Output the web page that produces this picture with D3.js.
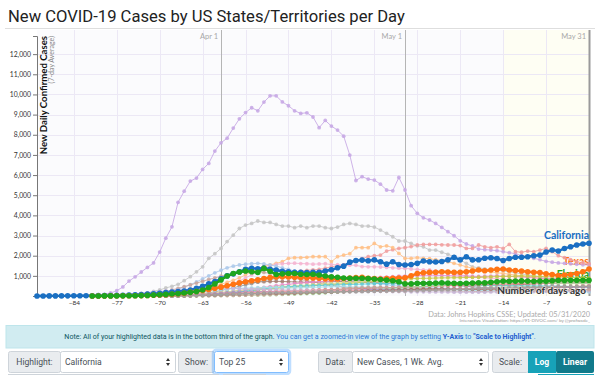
<!DOCTYPE html>
<html><head><meta charset="utf-8">
<script src="https://cdn.jsdelivr.net/npm/d3@7"></script>
<style>
html,body{margin:0;padding:0;background:#fff;}
svg{display:block;font-family:Roboto,"Helvetica Neue",Arial,sans-serif;}
</style></head><body>
<svg id="chart" width="600" height="375"></svg>
<script>
// ---------- DATA ----------
const titleText = "New COVID-19 Cases by US States/Territories per Day";
const yTicks = [1000,2000,3000,4000,5000,6000,7000,8000,9000,10000,11000,12000];
const xTicks = [-84,-77,-70,-63,-56,-49,-42,-35,-28,-21,-14,-7,0];
const monthLabels = ["Apr 1","May 1","May 31"];
const monthDays = [-60,-30,0];

// series: first day (days ago) and daily 7-day-average values
const states = ["New York","New Jersey","Illinois","Massachusetts","Pennsylvania","Michigan","Louisiana","Georgia","Maryland","Connecticut","Virginia","Ohio","Indiana","Colorado","North Carolina","Minnesota","Tennessee","Washington","Arizona","Iowa","Wisconsin","Alabama","California","Texas","Florida"];
const startDays = [-82,-78,-75,-72,-72,-75,-78,-75,-72,-72,-70,-72,-70,-76,-72,-70,-72,-88,-70,-68,-70,-70,-90,-81,-81];

const NY = [10,20,40,80,150,260,450,740,950,1190,
 1420,1640,2180,2870,3430,4650,5200,5700,5850,6280,
 6580,7190,7600,7830,8330,8790,9100,9340,9190,9620,
 9930,9930,9630,9440,9190,9060,9090,8880,8350,8710,
 8430,8230,7930,6990,5730,5920,5800,5750,5550,5260,
 5220,5880,5260,4480,4100,3880,3770,3600,3400,3190,
 2990,2740,2580,2480,2330,2300,2280,2250,2200,2150,
 2100,2000,1950,1870,1800,1720,1680,1640,1620,1600,
 1570,1550,1540];
const NJ = [5,10,20,40,70,110,160,230,300,400,
 480,580,760,960,1200,1450,1870,2100,2360,2700,
 3020,3350,3520,3600,3720,3650,3650,3550,3470,3470,
 3390,3470,3390,3470,3470,3390,3350,3420,3550,3600,
 3550,3470,3470,3420,3270,3110,2940,2730,2730,2610,
 2490,2440,2280,2280,2170,2070,1950,1790,1620,1450,
 1400,1350,1300,1280,1250,1200,1150,1100,1050,1000,
 950,900,860,830,800,780,760,740,720];
const IL = [5,8,12,18,25,35,50,70,95,120,
 150,190,230,280,330,400,470,550,620,700,
 760,820,880,950,1000,1050,1120,1180,1230,1270,
 1300,1320,1380,1450,1500,1540,1620,1750,1850,1950,
 2000,2030,2230,2300,2360,2400,2450,2530,2560,2560,
 2560,2540,2530,2530,2500,2360,2360,2530,2440,2400,
 2440,2360,2560,2200,2170,2230,2200,2280,2360,2200,
 2000,1900,1800,1700,1650,1600];
const MA = [10,20,35,55,80,110,150,200,260,330,
 410,500,580,680,780,900,1050,1200,1350,1480,
 1540,1620,1700,1870,1900,1900,1920,1950,1950,1950,
 1700,1950,2030,2100,2400,2400,2400,2610,2440,2490,
 2400,2110,1870,1870,1900,1870,1850,1800,1760,1700,
 1620,1540,1450,1380,1300,1250,1200,1150,1120,1080,
 1040,1000,960,920,880,850,820,790,760,740,
 720,700,680];
const PA = [5,10,18,30,45,65,90,120,160,210,
 270,340,420,520,620,750,900,1050,1200,1350,
 1500,1570,1600,1620,1630,1610,1600,1580,1590,1600,
 1560,1550,1540,1530,1520,1460,1450,1450,1440,1420,
 1400,1380,1370,1340,1320,1300,1290,1250,1200,1150,
 1100,1050,1000,960,930,900,880,860,840,820,
 800,780,760,740,720,700,680,660,650,640,
 630,620,610];
const MI = [5,10,20,40,70,110,170,240,330,440,
 560,700,850,1000,1150,1280,1400,1480,1540,1580,
 1600,1620,1590,1540,1480,1400,1320,1240,1170,1100,
 1040,990,950,900,860,830,800,770,720,680,
 640,600,560,520,490,470,450,430,420,410,
 400,390,390,380,370,380,390,400,410,420,
 430,440,450,460,470,480,490,500,500,510,
 500,490,470,450,420,400];
const LA = [3,6,12,20,35,55,85,120,170,230,
 300,380,460,550,640,730,820,900,980,1050,
 1100,1150,1180,1200,1190,1170,1120,1060,1000,940,
 880,820,760,700,640,580,530,480,440,410,
 390,370,350,340,330,320,310,300,300,290,
 290,280,280,270,260,250,250,240,240,230,
 230,230,240,250,260,270,280,290,300,300,
 310,320,330,320,310,300,300,310,320];
const GA = [5,10,18,30,45,65,90,120,150,190,
 230,280,330,380,430,480,520,560,600,630,
 660,690,710,720,730,720,710,700,690,680,
 680,690,700,710,720,720,710,700,690,680,
 670,660,650,640,640,630,630,620,620,610,
 610,600,600,590,580,570,560,550,550,540,
 540,540,550,560,570,580,600,610,620,630,
 640,650,650,660,660,670];
const MD = [3,5,8,12,18,26,36,50,70,90,
 115,140,170,200,235,270,310,350,390,430,
 470,510,550,580,610,640,660,690,710,730,
 750,770,790,810,830,850,880,900,920,940,
 960,980,990,1000,1010,1020,1030,1030,1020,1010,
 1000,990,990,980,970,980,990,1000,990,980,
 960,940,920,900,880,870,860,850,840,830,
 820,810,800];
const CT = [2,4,7,12,20,30,45,65,90,120,
 160,210,270,340,410,480,550,620,690,760,
 820,880,930,970,1000,1010,1000,980,950,920,
 890,860,830,800,780,760,740,720,700,680,
 660,640,620,600,590,580,570,560,550,540,
 520,500,480,460,440,420,400,380,360,350,
 340,330,320,310,300,290,280,270,260,250,
 250,240,240];
const VA = [3,5,8,12,18,26,36,50,65,85,
 110,140,170,200,230,260,290,320,350,380,
 410,430,450,470,490,510,530,550,570,590,
 610,630,650,680,710,740,770,800,820,840,
 850,860,870,880,880,890,900,900,910,910,
 920,920,930,940,950,960,970,980,980,990,
 990,980,970,960,950,940,930,920,910,900,
 890];
const OH = [3,5,8,13,20,30,45,60,80,100,
 125,150,180,210,240,270,300,330,360,390,
 420,440,460,480,500,520,540,560,580,600,
 620,640,660,680,700,720,710,700,690,680,
 670,660,650,640,630,620,610,600,590,580,
 570,560,550,540,530,520,510,500,500,490,
 490,480,480,470,470,460,460,450,450,450,
 440,440,440];
const IN = [2,4,7,11,17,25,35,48,65,85,
 110,140,170,200,240,280,320,360,390,420,
 440,460,480,490,500,510,520,530,540,550,
 560,570,580,590,600,610,620,620,610,600,
 600,590,590,580,580,570,570,560,560,550,
 550,540,540,530,530,520,520,510,510,500,
 500,490,490,480,480,470,470,460,460,450,
 450];
const CO = [5,9,14,20,28,38,50,65,85,110,
 140,170,200,230,260,290,320,340,360,380,
 390,400,410,420,420,420,410,400,400,410,
 420,430,440,450,460,460,460,450,450,440,
 430,420,410,400,390,380,370,360,350,340,
 340,330,320,310,300,300,290,280,280,270,
 270,260,260,250,250,240,240,230,230,230,
 220,220,220,210,210,210,200];
const NC = [2,3,5,8,12,17,24,32,42,55,
 70,85,100,115,130,145,160,175,190,205,
 220,230,240,250,260,270,280,290,300,310,
 320,330,340,350,360,370,380,390,400,410,
 420,430,440,450,460,470,480,490,500,510,
 520,530,540,550,560,570,580,590,600,610,
 620,630,640,650,660,680,700,720,740,760,
 780,790,800];
const MN = [2,3,4,6,8,10,13,16,20,24,
 28,32,36,40,45,50,55,60,66,72,
 80,90,100,110,120,130,140,160,180,200,
 220,240,260,280,300,320,340,360,380,400,
 420,440,460,480,500,520,540,560,580,600,
 610,620,630,640,650,660,670,680,690,700,
 700,690,680,670,660,650,650,640,640,630,
 630];
const TN = [3,5,8,12,18,26,36,48,62,78,
 95,115,135,155,175,190,200,210,215,220,
 220,220,215,210,210,215,220,230,240,250,
 260,270,280,290,300,310,320,330,330,330,
 320,310,300,300,300,310,320,330,340,340,
 340,340,350,350,350,360,360,360,370,370,
 380,380,390,390,400,400,410,410,420,420,
 430,430,440];
const WA = [2,3,4,6,8,11,15,20,27,35,
 45,58,72,90,110,135,160,190,220,250,
 280,300,320,340,350,360,370,380,380,380,
 370,360,350,340,330,320,310,300,300,290,
 290,280,280,270,270,260,260,250,250,250,
 240,240,240,230,230,230,220,220,220,210,
 210,210,200,200,200,200,190,190,190,190,
 190,190,200,200,200,210,210,210,220,220,
 220,230,230,230,240,240,250,250,260];
const AZ = [3,5,8,12,17,24,32,42,54,68,
 82,98,115,130,145,160,175,185,195,205,
 210,215,220,225,230,235,240,245,250,255,
 260,260,260,260,255,250,250,250,255,260,
 270,280,290,300,310,320,330,340,350,360,
 360,370,370,380,380,390,390,400,400,410,
 410,420,420,430,440,450,460,470,480,490,
 500];
const IA = [2,3,4,6,8,10,13,16,20,25,
 30,36,42,50,58,66,75,85,95,110,
 125,145,170,200,230,260,290,320,350,380,
 400,420,430,440,440,430,420,410,400,390,
 380,370,360,350,350,340,340,330,330,330,
 320,320,320,310,310,310,300,300,300,300,
 300,300,300,310,310,310,320,320,320];
const WI = [2,4,6,9,13,18,24,32,42,54,
 66,78,90,100,110,118,124,130,134,138,
 140,145,150,155,160,165,170,180,190,200,
 210,220,230,240,250,260,270,280,290,300,
 310,320,330,340,350,350,350,340,340,330,
 330,330,340,340,350,350,360,370,380,390,
 400,410,420,430,440,450,460,460,470,470,
 480];
const AL = [2,3,5,8,12,18,26,36,48,60,
 72,85,98,110,120,130,140,150,160,170,
 175,180,185,190,195,200,205,210,210,210,
 210,210,210,215,220,225,230,235,240,245,
 250,255,260,270,280,290,300,310,320,330,
 340,350,360,370,380,390,400,400,400,410,
 410,420,430,440,450,460,460,470,470,480,
 480];
const CA = [3,3,4,5,6,7,9,10,12,14,
 17,20,25,30,38,48,60,75,95,115,
 140,165,190,220,250,300,380,480,600,720,
 850,1000,1100,1200,1330,1380,1350,1390,1330,1290,
 1230,1200,1170,1170,1160,1170,1180,1240,1300,1400,
 1480,1680,1760,1780,1750,1790,1700,1580,1700,1560,
 1540,1560,1620,1740,1700,1690,1710,1790,1920,1790,
 1950,1790,1800,1870,1900,1860,1760,1860,1920,1920,
 1950,2000,2030,2180,2280,2230,2360,2440,2530,2580,
 2620];
const TX = [1,2,3,4,6,8,10,14,20,28,
 38,50,65,85,110,140,180,220,270,320,
 380,440,510,580,650,710,760,800,870,910,
 940,950,940,930,920,910,890,880,850,840,
 845,870,890,910,930,880,860,840,860,880,
 890,900,1000,1120,1150,1170,1180,1200,1190,1170,
 1180,1200,1240,1290,1250,1290,1320,1340,1290,1260,
 1240,1200,1180,1160,1100,1070,1010,1040,1070,1120,
 1200,1340];
const FL = [2,3,4,5,6,8,10,14,20,30,
 45,60,80,100,120,150,180,220,300,420,
 600,800,990,1120,1190,1240,1200,1170,1370,1230,
 1070,1100,1120,1120,1080,1070,1080,1040,990,950,
 930,890,880,880,880,860,840,820,790,760,
 710,600,600,630,630,630,640,660,640,630,
 620,630,640,660,650,680,710,740,730,740,
 750,740,735,740,740,760,780,775,780,785,
 780,780];
const seriesValues = [NY,NJ,IL,MA,PA,MI,LA,GA,MD,CT,VA,OH,IN,CO,NC,MN,TN,WA,AZ,IA,WI,AL,CA,TX,FL];

// ---------- STYLE ----------
const faintColors = ["#c6a6e4","#c4c4c4","#f09c9c","#ffbe84","#f5b3d0","#aac8ea","#c9a49c","#a57a6e","#e88bcb","#999999","#c8c944","#d8d88c","#5fcbd8","#a9dde8","#e07b7b","#a4dd98","#a98bcc","#c9b6d8","#ffa3a1","#c8a49b","#9b7266","#a3a3a3"];
const highlight = {California:"#1a6fc2", Texas:"#ff7413", Florida:"#1ea51e"};

// ---------- CHART ----------
const svg = d3.select("#chart");
const x = d3.scaleLinear().domain([-90,0]).range([37,589]);
const y = d3.scaleLinear().domain([0,12900]).range([296,36]);
const plotTop = 30, plotBottom = 296;

svg.append("text").attr("x",8).attr("y",22).attr("font-size",16.6).attr("fill","#222")
  .attr("font-family","Roboto").text(titleText);
svg.append("line").attr("x1",5).attr("x2",595).attr("y1",28.5).attr("y2",28.5).attr("stroke","#dedede");

// backgrounds
svg.append("rect").attr("x",x(-90)).attr("y",plotTop).attr("width",x(-14)-x(-90)).attr("height",plotBottom-plotTop).attr("fill","#fbfbfd");
svg.append("rect").attr("x",x(-14)).attr("y",plotTop).attr("width",x(0)-x(-14)).attr("height",plotBottom-plotTop).attr("fill","#fefef3");

// grid
const g = svg.append("g");
g.selectAll(".hg").data(yTicks).join("line").attr("x1",x(-90)).attr("x2",x(0))
  .attr("y1",d=>Math.round(y(d))+0.5).attr("y2",d=>Math.round(y(d))+0.5).attr("stroke","#ece8f5");
g.selectAll(".vg").data(xTicks).join("line").attr("y1",plotTop).attr("y2",plotBottom)
  .attr("x1",d=>Math.round(x(d))+0.5).attr("x2",d=>Math.round(x(d))+0.5).attr("stroke","#ece8f5");
const g2 = svg.append("g");
g2.selectAll("line").data(monthDays).join("line").attr("y1",plotTop).attr("y2",plotBottom)
  .attr("x1",d=>Math.round(x(d))+0.5).attr("x2",d=>Math.round(x(d))+0.5)
  .attr("stroke",d=>d===0?"#9a9a9a":"#b5b5b5").attr("stroke-width",d=>d===0?2:1);
g2.selectAll("text").data(monthDays).join("text").attr("x",d=>x(d)-3).attr("y",39)
  .attr("text-anchor","end").attr("font-size",7.5).attr("fill","#a8a8a8").attr("font-family","Lato")
  .text((d,i)=>monthLabels[i]);

// y axis
const ya = svg.append("g").attr("transform",`translate(${x(-90)},0)`)
  .call(d3.axisLeft(y).tickValues(yTicks).tickFormat(d3.format(",")).tickSize(4).tickSizeOuter(4).tickPadding(2));
ya.select(".domain").attr("stroke","#777");
ya.selectAll(".tick line").attr("stroke","#777");
ya.selectAll("text").attr("font-size",6.8).attr("fill","#333").attr("font-family","Lato");

// x axis
const xa = svg.append("g").attr("transform",`translate(0,${plotBottom})`)
  .call(d3.axisBottom(x).tickValues(xTicks).tickSize(0).tickPadding(4));
xa.select(".domain").remove();
xa.selectAll("text").attr("font-size",6.5).attr("fill","#333").attr("font-family","Lato");

// y title
svg.append("text").attr("transform",`translate(47,36) rotate(-90)`).attr("text-anchor","end")
  .attr("font-size",9.6).attr("font-weight","bold").attr("fill","#111").attr("font-family","Lato")
  .text("New Daily Confirmed Cases");
svg.append("text").attr("transform",`translate(54,36) rotate(-90)`).attr("text-anchor","end")
  .attr("font-size",7).attr("fill","#888").attr("font-family","Lato")
  .text("(7-day Average)");

// series
const line = d3.line().x(d=>x(d.day)).y(d=>y(d.v));
const all = states.map((name,i)=>({name, pts: seriesValues[i].map((v,j)=>({day:startDays[i]+j, v}))}));
const faint = all.filter(s=>!highlight[s.name]);
const hl = ["California","Texas","Florida"].map(n=>all.find(s=>s.name===n));
const labelDy = {California:-4, Texas:-4, Florida:-2};

function addLabel(parent, s){
  const last = s.pts[s.pts.length-1];
  parent.append("text").attr("x",x(0)).attr("y",y(last.v)+labelDy[s.name]).attr("text-anchor","end")
    .attr("font-size",10.5).attr("font-weight","bold").attr("font-family","Lato")
    .attr("fill",highlight[s.name]).text(s.name);
}
// Texas & Florida labels sit under the faint marks
const lg = svg.append("g");
addLabel(lg, hl[1]); addLabel(lg, hl[2]);

const fg = svg.append("g");
faint.forEach((s,i)=>{
  const c = faintColors[i];
  fg.append("path").datum(s.pts).attr("d",line).attr("fill","none").attr("stroke",c).attr("stroke-width",1).attr("opacity",0.85);
  fg.append("g").selectAll("circle").data(s.pts).join("circle")
    .attr("cx",d=>x(d.day)).attr("cy",d=>y(d.v)).attr("r",1.9).attr("fill",c).attr("opacity",0.85);
});
addLabel(svg.append("g"), hl[0]);

const hg = svg.append("g");
hl.forEach(s=>{
  const c = highlight[s.name];
  hg.append("path").datum(s.pts).attr("d",line).attr("fill","none").attr("stroke",c).attr("stroke-width",2.4);
  hg.append("g").selectAll("circle").data(s.pts).join("circle")
    .attr("cx",d=>x(d.day)).attr("cy",d=>y(d.v)).attr("r",2.8).attr("fill",c);
});

// x-axis title
svg.append("text").attr("x",586).attr("y",294).attr("text-anchor","end").attr("font-size",10)
  .attr("font-weight","bold").attr("font-family","Lato").attr("fill","#333")
  .attr("stroke","#fff").attr("stroke-width",1.5).attr("stroke-opacity",0.6).attr("paint-order","stroke")
  .text("Number of days ago");

// source
svg.append("text").attr("x",590).attr("y",316.5).attr("text-anchor","end").attr("font-size",7.4)
  .attr("fill","#aaa").attr("font-family","Lato").text("Data: Johns Hopkins CSSE; Updated: 05/31/2020");
svg.append("text").attr("x",590).attr("y",322).attr("text-anchor","end").attr("font-size",4.6)
  .attr("fill","#999").attr("font-family","Lato").text("Interactive Visualization: https://91-DIVOC.com/ by @profwade_");

// info box
svg.append("rect").attr("x",6).attr("y",325.5).attr("width",588).attr("height",22.5).attr("fill","#d1ecf1").attr("stroke","#bee5eb");
const note = svg.append("text").attr("x",300).attr("y",339).attr("text-anchor","middle").attr("font-size",7.05).attr("font-family","Roboto");
note.append("tspan").attr("fill","#0c5460").text("Note: All of your highlighted data is in the bottom third of the graph. ");
note.append("tspan").attr("fill","#2b78d8").text("You can get a zoomed-in view of the graph by setting ");
note.append("tspan").attr("fill","#1f5fd0").attr("font-weight","bold").text("Y-Axis");
note.append("tspan").attr("fill","#2b78d8").text(" to ");
note.append("tspan").attr("fill","#1f5fd0").attr("font-weight","bold").text("\"Scale to Highlight\"");
note.append("tspan").attr("fill","#2b78d8").text(".");

// controls
const cy0 = 351, ch = 21;
const ctl = svg.append("g").attr("font-family","Roboto").attr("font-size",8.6);
function labelBox(x0,w,t){
  ctl.append("rect").attr("x",x0+0.5).attr("y",cy0+0.5).attr("width",w).attr("height",ch).attr("rx",2)
    .attr("fill","#e9ecef").attr("stroke","#ced4da");
  ctl.append("text").attr("x",x0+w/2+0.5).attr("y",cy0+ch/2+3.6).attr("text-anchor","middle").attr("fill","#495057").text(t);
}
function selectBox(x0,w,t,focus){
  if(focus) ctl.append("rect").attr("x",x0-1).attr("y",cy0-1).attr("width",w+3).attr("height",ch+3).attr("rx",3)
    .attr("fill","none").attr("stroke","rgba(0,123,255,0.25)").attr("stroke-width",2.5);
  ctl.append("rect").attr("x",x0+0.5).attr("y",cy0+0.5).attr("width",w).attr("height",ch).attr("rx",2)
    .attr("fill","#fff").attr("stroke",focus?"#80bdff":"#ced4da");
  ctl.append("text").attr("x",x0+5).attr("y",cy0+ch/2+3.6).attr("fill","#495057").text(t);
  const ax = x0+w-7, my = cy0+ch/2+0.5;
  ctl.append("path").attr("d",`M${ax-2},${my-1} L${ax},${my-4} L${ax+2},${my-1} Z M${ax-2},${my+1} L${ax},${my+4} L${ax+2},${my+1} Z`).attr("fill","#333");
}
labelBox(8,52,"Highlight:");
selectBox(60,115,"California",false);
labelBox(178,36,"Show:");
selectBox(214,74,"Top 25",true);
labelBox(318,34,"Data:");
selectBox(352,136,"New Cases, 1 Wk. Avg.",false);
labelBox(492,36,"Scale:");
ctl.append("rect").attr("x",528).attr("y",cy0).attr("width",28).attr("height",ch+1).attr("fill","#17a2b8");
ctl.append("rect").attr("x",556).attr("y",cy0).attr("width",38).attr("height",ch+1).attr("rx",2).attr("fill","#117a8b");
ctl.append("text").attr("x",542).attr("y",cy0+ch/2+3.6).attr("text-anchor","middle").attr("fill","#fff").attr("font-weight","bold").text("Log");
ctl.append("text").attr("x",575).attr("y",cy0+ch/2+3.6).attr("text-anchor","middle").attr("fill","#fff").attr("font-weight","bold").text("Linear");
// next row (partially visible)
ctl.append("rect").attr("x",8.5).attr("y",374.5).attr("width",42).attr("height",6).attr("fill","#e9ecef").attr("stroke","#ced4da");
ctl.append("rect").attr("x",50.5).attr("y",374.5).attr("width",168).attr("height",6).attr("fill","#fff").attr("stroke","#ced4da");
ctl.append("rect").attr("x",223.5).attr("y",374.5).attr("width",42).attr("height",6).attr("fill","#e9ecef").attr("stroke","#ced4da");
ctl.append("rect").attr("x",538).attr("y",374).attr("width",56).attr("height",6).attr("fill","#17a2b8");
</script>
</body></html>
